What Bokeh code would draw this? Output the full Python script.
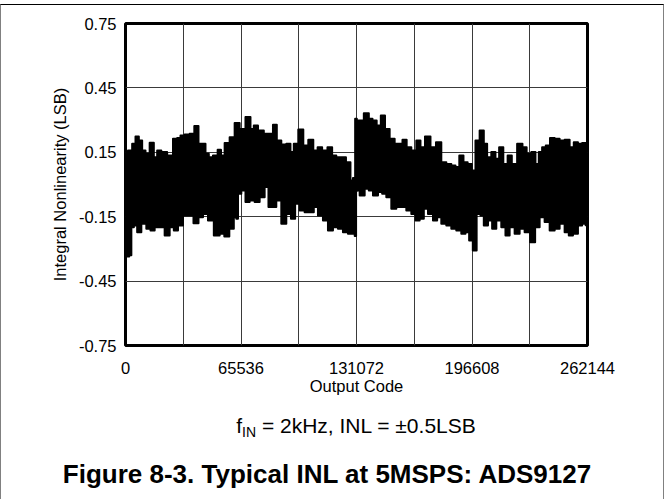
from bokeh.plotting import figure
from bokeh.models import Range1d, FixedTicker, Div, InlineStyleSheet
from bokeh.layouts import column
from bokeh.embed import file_html
from bokeh.resources import INLINE

# ---- data ----
x_ticks = [0, 65536, 131072, 196608, 262144]
x_tick_labels = ["0", "65536", "131072", "196608", "262144"]
x_grid_codes = [0, 32768, 65536, 98304, 131072, 163840, 196608, 229376, 262144]
y_ticks = [-0.75, -0.45, -0.15, 0.15, 0.45, 0.75]
y_tick_labels = ["-0.75", "-0.45", "-0.15", "0.15", "0.45", "0.75"]

# upper envelope of the INL band (code, LSB)
upper_code = [0, 2837, 4728, 6619, 8510, 10401, 12292, 15128, 17019, 18910, 21747, 25529,
              28365, 30256, 32147, 34984, 37820, 40278, 42548, 44439, 46330, 48221, 51057,
              53516, 54839, 57676, 60512, 63349, 66185, 69967, 71858, 73749, 76586, 80368,
              82637, 84717, 86986, 89823, 92659, 94550, 96441, 99656, 102114, 105329, 107787,
              110246, 112893, 116297, 118188, 121024, 123482, 126697, 128588, 129534, 131072,
              131447, 133338, 137120, 139011, 141280, 143739, 146008, 148466, 151303, 154139,
              156030, 158299, 160758, 163594, 166431, 168322, 171536, 174562, 177777, 180613,
              183450, 186286, 188177, 190635, 192905, 195363, 197632, 199523, 202360, 204251,
              206142, 208978, 210869, 213139, 215597, 218055, 220324, 224106, 226375, 228834,
              231670, 233561, 235452, 237343, 239612, 242116, 244907, 247744, 250580, 253417,
              255308, 258144, 260035, 262144]
upper_inl = [0.151, 0.158, 0.190, 0.224, 0.205, 0.158, 0.143, 0.194, 0.127, 0.158, 0.151, 0.135,
             0.213, 0.217, 0.228, 0.233, 0.236, 0.272, 0.190, 0.190, 0.143, 0.127, 0.135,
             0.162, 0.135, 0.193, 0.220, 0.286, 0.259, 0.314, 0.259, 0.275, 0.252, 0.236,
             0.236, 0.278, 0.205, 0.186, 0.190, 0.151, 0.190, 0.256, 0.182, 0.208, 0.158,
             0.174, 0.158, 0.174, 0.135, 0.127, 0.127, 0.104, 0.019, 0.030, 0.306,
             0.298, 0.298, 0.332, 0.306, 0.298, 0.275, 0.321, 0.259, 0.213, 0.190,
             0.190, 0.208, 0.174, 0.158, 0.205, 0.174, 0.224, 0.174, 0.197, 0.104,
             0.096, 0.089, 0.081, 0.135, 0.104, 0.096, 0.065, 0.205, 0.252, 0.190,
             0.127, 0.151, 0.120, 0.174, 0.096, 0.135, 0.096, 0.190, 0.174, 0.143,
             0.151, 0.096, 0.151, 0.174, 0.182, 0.217, 0.213, 0.205, 0.208, 0.174,
             0.197, 0.190, 0.193, 0.170]

# lower envelope of the INL band (code, LSB)
lower_code = [0, 1400, 2837, 3800, 5673, 7564, 10401, 13237, 15128, 17965, 20801, 23638, 26474,
              28365, 31202, 34038, 36875, 40278, 42548, 45384, 48221, 52003, 54839, 57297,
              60512, 62403, 63349, 64294, 67131, 69022, 71858, 74695, 77531, 80368, 81880,
              84150, 86986, 89823, 92659, 95117, 97387, 100223, 103060, 105896, 107787, 110624,
              113460, 116297, 119133, 121970, 124806, 127643, 129534, 130600, 131072,
              131447, 134284, 137120, 139011, 141848, 144684, 146575, 149412, 152248, 155085,
              157921, 160758, 163594, 165485, 168322, 170213, 173049, 175886, 177777, 180613,
              183450, 186286, 189123, 191959, 193850, 196120, 198010, 200469, 202360, 204251,
              207087, 208978, 211815, 214651, 216542, 219379, 222215, 225052, 227888, 231292,
              233561, 236398, 239234, 242116, 244907, 247744, 250580, 252471, 255308, 258144,
              260035, 262144]
lower_inl = [-0.220, -0.335, -0.330, -0.199, -0.191, -0.222, -0.183, -0.206, -0.214, -0.199, -0.199,
             -0.238, -0.199, -0.214, -0.191, -0.144, -0.144, -0.180, -0.152, -0.137, -0.168,
             -0.238, -0.230, -0.242, -0.206, -0.152, -0.160, -0.043, -0.028, -0.082, -0.074,
             -0.082, -0.059, -0.012, -0.105, -0.105, -0.074, -0.183, -0.137, -0.160, -0.090,
             -0.121, -0.129, -0.129, -0.105, -0.144, -0.168, -0.214, -0.199, -0.206, -0.222,
             -0.230, -0.230, -0.240, -0.030,
             -0.028, -0.051, -0.020, -0.028, -0.051, -0.035, -0.043, -0.059, -0.113, -0.105,
             -0.105, -0.121, -0.137, -0.168, -0.160, -0.113, -0.137, -0.168, -0.152, -0.183,
             -0.191, -0.206, -0.214, -0.230, -0.222, -0.261, -0.307, -0.137, -0.144, -0.191,
             -0.168, -0.206, -0.168, -0.199, -0.238, -0.199, -0.230, -0.206, -0.222, -0.269,
             -0.199, -0.152, -0.175, -0.214, -0.206, -0.183, -0.222, -0.238, -0.230, -0.191,
             -0.183, -0.190]

caption_var = "f"
caption_sub = "IN"
caption_main = " = 2kHz, INL = \u00b10.5LSB"
figure_title = "Figure 8-3. Typical INL at 5MSPS: ADS9127"

FONT = "Liberation Sans"
AX_SIZE = "16.5px"


def centered_steps(xs, ys):
    """Step outline: each reading holds until the midpoint to its neighbours."""
    sx, sy = [], []
    n = len(xs)
    for i in range(n):
        left = xs[i] if i == 0 else (xs[i - 1] + xs[i]) / 2
        right = xs[i] if i == n - 1 else (xs[i] + xs[i + 1]) / 2
        sx += [left, right]
        sy += [ys[i], ys[i]]
    return sx, sy


p = figure(width=664, height=403, output_backend="svg", toolbar_location=None,
           x_range=Range1d(0, 262144), y_range=Range1d(-0.75, 0.75),
           min_border_left=125, min_border_right=77, min_border_top=23, min_border_bottom=58)
p.background_fill_color = "white"
p.border_fill_color = "white"
p.outline_line_color = "black"
p.outline_line_width = 3

# band
ux, uy = centered_steps(upper_code, upper_inl)
lx, ly = centered_steps(lower_code, lower_inl)
p.patch(ux + lx[::-1], uy + ly[::-1], fill_color="black", line_color="black",
        line_width=2, line_join="round")

# axes
p.xaxis.ticker = FixedTicker(ticks=x_ticks)
p.xaxis.major_label_overrides = {t: l for t, l in zip(x_ticks, x_tick_labels)}
p.yaxis.ticker = FixedTicker(ticks=y_ticks)
p.yaxis.major_label_overrides = {t: l for t, l in zip(y_ticks, y_tick_labels)}
for ax in (p.xaxis[0], p.yaxis[0]):
    ax.axis_line_color = None
    ax.major_tick_line_color = None
    ax.minor_tick_line_color = None
    ax.major_label_text_font = FONT
    ax.major_label_text_font_size = AX_SIZE
    ax.major_label_text_color = "black"
    ax.axis_label_text_font = FONT
    ax.axis_label_text_font_size = AX_SIZE
    ax.axis_label_text_font_style = "normal"
    ax.axis_label_text_color = "black"
p.xaxis.axis_label = "Output Code"
p.yaxis.axis_label = "Integral Nonlinearity (LSB)"
p.xaxis.major_label_standoff = 10
p.xaxis.axis_label_standoff = 0
p.yaxis.major_label_standoff = 3
p.yaxis.axis_label_standoff = 7

# grid
p.xgrid.ticker = FixedTicker(ticks=x_grid_codes)
p.ygrid.ticker = FixedTicker(ticks=y_ticks)
p.grid.grid_line_color = "#3a3a3a"
p.grid.grid_line_width = 1

# ---- caption and figure title (HTML text below the plot) ----
cap_html = (
    f'<div style="position:relative;width:664px;height:96px;font-family:\'{FONT}\';color:black;">'
    f'<div style="position:absolute;left:356px;top:12px;transform:translateX(-50%);'
    f'white-space:nowrap;font-size:21px;line-height:21px;">'
    f'{caption_var}<span style="font-size:14px;position:relative;top:4px;">{caption_sub}</span>'
    f'{caption_main}</div>'
    f'<div style="position:absolute;left:327px;top:58px;transform:translateX(-50%);'
    f'white-space:nowrap;font-size:26px;line-height:26px;font-weight:bold;">{figure_title}</div>'
    f'</div>'
)
cap = Div(text=cap_html, width=664, height=96, margin=0)

frame_css = InlineStyleSheet(css="""
:host { position: relative; }
:host::after {
  content: ""; position: absolute; left: 0; top: 4px; width: 664px; height: 495px;
  border-top: 1px solid black; border-left: 1px solid #808080; border-right: 1px solid #808080;
  box-sizing: border-box; pointer-events: none; z-index: 10;
}
""")

layout = column(p, cap, spacing=0, stylesheets=[frame_css])
open("out.html", "w").write(file_html(layout, INLINE))
